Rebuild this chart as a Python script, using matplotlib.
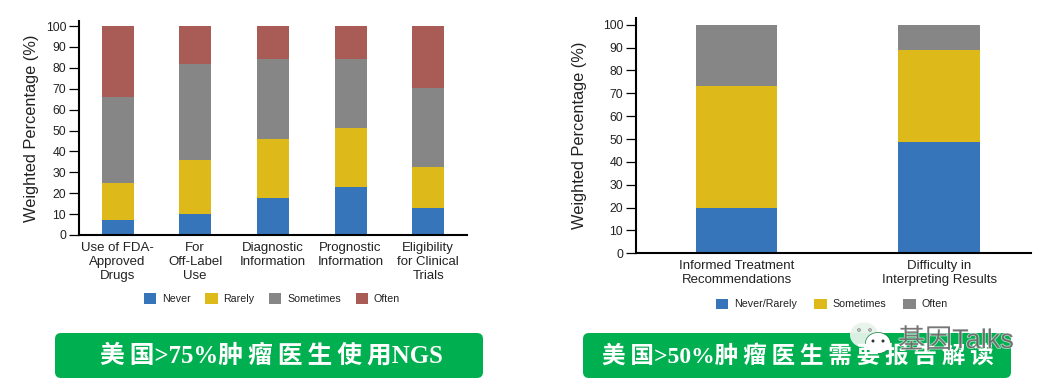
import matplotlib
matplotlib.use("Agg")
import matplotlib.pyplot as plt
from matplotlib.patches import FancyBboxPatch, Ellipse, Circle
import matplotlib.patheffects as pe

plt.rcParams['font.family'] = ['Liberation Sans', 'Noto Sans CJK SC', 'DejaVu Sans']

# left chart
left_labels = ["Use of FDA-\nApproved\nDrugs", "For\nOff-Label\nUse", "Diagnostic\nInformation",
               "Prognostic\nInformation", "Eligibility\nfor Clinical\nTrials"]
left_never = [7, 10, 17.5, 23, 13]
left_rarely = [18, 26, 28.5, 28, 19.5]
left_sometimes = [41, 46, 38, 33, 38]
left_often = [34, 18, 16, 16, 29.5]

# right chart
right_labels = ["Informed Treatment\nRecommendations", "Difficulty in\nInterpreting Results"]
right_never_rarely = [20, 48.5]
right_sometimes = [53, 40.5]
right_often = [27, 11]

yticks = list(range(0, 101, 10))
# thin spaces between the CJK characters, the original is set loosely
left_title = "美\u2009国>75%肿\u2009瘤\u2009医\u2009生\u2009使\u2009用NGS"
right_title = "美\u2009国>50%肿\u2009瘤\u2009医\u2009生\u2009需\u2009要\u2009报\u2009告\u2009解\u2009读"

BLUE = "#3775BA"
YELLOW = "#DDBA19"
GRAY = "#868686"
RED = "#A85C55"
GREEN = "#00AF50"
TEXT = "#222222"
W, H = 1047, 388


def stacked(ax, labels, series, colors, names, width, ylim, xlim):
    bottom = [0] * len(labels)
    xs = list(range(len(labels)))
    for vals, c, name in zip(series, colors, names):
        ax.bar(xs, vals, width, bottom=bottom, color=c, label=name)
        bottom = [b + v for b, v in zip(bottom, vals)]
    ax.set_xlim(*xlim)
    ax.set_ylim(0, ylim)
    ax.set_xticks(xs)
    ax.set_xticklabels(labels, fontsize=9.5, color=TEXT, linespacing=1.2)
    ax.set_yticks(yticks)
    ax.tick_params(axis="x", length=0, pad=5)
    ax.tick_params(axis="y", length=7, width=0.9, labelsize=8.8, labelcolor=TEXT, pad=2)
    ax.spines["top"].set_visible(False)
    ax.spines["right"].set_visible(False)
    ax.spines["left"].set_linewidth(1.5)
    ax.spines["bottom"].set_linewidth(1.5)
    ax.set_ylabel("Weighted Percentage (%)", fontsize=11.8, color=TEXT)


def pos(x0, x1, y_top, y_bottom):
    return [x0 / W, 1 - y_bottom / H, (x1 - x0) / W, (y_bottom - y_top) / H]


fig = plt.figure(figsize=(W / 100, H / 100), dpi=100)

ax1 = fig.add_axes(pos(78.7, 467, 21, 235))
stacked(ax1, left_labels, [left_never, left_rarely, left_sometimes, left_often],
        [BLUE, YELLOW, GRAY, RED], ["Never", "Rarely", "Sometimes", "Often"],
        32 / 77.7, 102.4, (-0.5, 4.5))
ax1.yaxis.set_label_coords(-0.102, 0.5)
ax1.legend(loc="center", bbox_to_anchor=(272 / W, 1 - 298.5 / H), bbox_transform=fig.transFigure,
           ncol=4, frameon=False, fontsize=7.7, labelcolor=TEXT, handlelength=1.15, handleheight=1.15,
           handletextpad=0.55, columnspacing=1.35, borderpad=0, borderaxespad=0)

ax2 = fig.add_axes(pos(635.7, 1030.7, 18.3, 253.3))
stacked(ax2, right_labels, [right_never_rarely, right_sometimes, right_often],
        [BLUE, YELLOW, GRAY], ["Never/Rarely", "Sometimes", "Often"],
        81.3 / 202.3, 102.8, (-0.5, 1.453))
ax2.yaxis.set_label_coords(-0.124, 0.5)
ax2.legend(loc="center", bbox_to_anchor=(832 / W, 1 - 304 / H), bbox_transform=fig.transFigure,
           ncol=3, frameon=False, fontsize=7.7, labelcolor=TEXT, handlelength=1.15, handleheight=1.15,
           handletextpad=0.55, columnspacing=1.6, borderpad=0, borderaxespad=0)

# overlay in pixel coordinates for banners and watermark
ov = fig.add_axes([0, 0, 1, 1], zorder=5)
ov.set_xlim(0, W)
ov.set_ylim(H, 0)
ov.axis("off")
ov.patch.set_alpha(0)

serif = ['Liberation Serif', 'Noto Sans CJK SC']
for x0, x1, txt, tx, fs in [(55, 483, left_title, 271, 17.8), (583, 1011, right_title, 798, 17)]:
    ov.add_patch(FancyBboxPatch((x0 + 6, 339), x1 - x0 - 12, 33, boxstyle="round,pad=6,rounding_size=6",
                                fc=GREEN, ec="none"))
    ov.text(tx, 356, txt, color="white", fontsize=fs, family=serif, ha="center", va="center",
            fontweight="bold")

# watermark
ov.add_patch(Ellipse((864, 335), 28, 25, fc="#E6F3EA", ec="none", alpha=0.95))
ov.add_patch(Circle((859, 330), 1.3, fc="none", ec="#777777", lw=0.6))
ov.add_patch(Circle((870, 330), 1.3, fc="none", ec="#777777", lw=0.6))
ov.add_patch(Ellipse((878, 343), 25, 21, fc="white", ec="#0A7A3A", lw=0.5))
ov.add_patch(Circle((873, 341), 1.5, fc="#333333", ec="none"))
ov.add_patch(Circle((883, 341), 1.5, fc="#333333", ec="none"))
ov.text(898, 341, "基因Talks", fontsize=19.5, color="#666666", ha="left", va="center", alpha=0.8,
        path_effects=[pe.withStroke(linewidth=1.0, foreground="white", alpha=0.7)])

fig.savefig("out.png", dpi=100)
